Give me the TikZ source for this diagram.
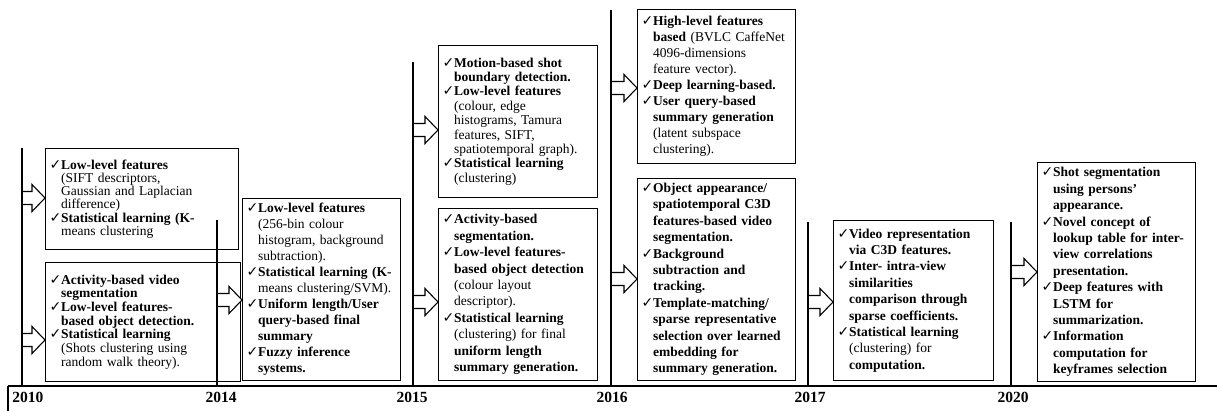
\documentclass[tikz,border=0pt]{standalone}
\usepackage{fontspec}
\setmainfont{Liberation Serif}
\newfontfamily\symfont{DejaVu Sans}
\usetikzlibrary{calc}
\newcommand\ck{\makebox[11.5pt][l]{\symfont\mdseries\fontsize{14}{14}\selectfont ✓}}
\newcommand\ind{\hspace*{11.5pt}}
\newcommand\nohyph{\hyphenpenalty 10000\relax\exhyphenpenalty 10000\relax}
\tikzset{
  stage/.style={draw, line width=1.1pt, anchor=north west, align=left, inner xsep=4pt, inner ysep=2pt,
    font=\fontsize{13.5}{#1}\selectfont\bfseries\nohyph},
  yearline/.style={line width=1.8pt},
  yearlabel/.style={font=\fontsize{15.5}{15.5}\selectfont\bfseries, inner sep=0pt, anchor=north},
  blockarr/.style={draw, fill=white, line width=1.1pt, line join=miter,
    to path={($(\tikztostart)+(0,6.5)$) -- ($(\tikztotarget)+(-13,6.5)$) -- ($(\tikztotarget)+(-13,13.5)$)
      -- (\tikztotarget) -- ($(\tikztotarget)+(-13,-13.5)$) -- ($(\tikztotarget)+(-13,-6.5)$)
      -- ($(\tikztostart)+(0,-6.5)$) -- cycle}}
}
\begin{document}
\begin{tikzpicture}[x=1pt, y=-1pt]
\useasboundingbox (0,0) rectangle (1217,411);
% 2010
\node[stage=13.3, text width=185pt, minimum height=101pt] (n2010a) at (45,148) {%
\ck Low-level features\\
\ind\textmd{(SIFT descriptors,}\\
\ind\textmd{Gaussian and Laplacian}\\
\ind\textmd{difference)}\\
\ck Statistical learning (K-\\
\ind\textmd{means clustering}};
\node[stage=13.7, text width=187pt, minimum height=119pt] (n2010b) at (45,262) {%
\ck Activity-based video\\
\ind segmentation\\
\ck Low-level features-\\
\ind based object detection.\\
\ck Statistical learning\\
\ind\textmd{(Shots clustering using}\\
\ind\textmd{random walk theory).}};
% 2014
\node[stage=16, text width=150pt, minimum height=182pt] (n2014) at (242,198) {%
\ck Low-level features\\
\ind\textmd{(256-bin colour}\\
\ind\textmd{histogram, background}\\
\ind\textmd{subtraction).}\\
\ck Statistical learning (K-\\
\ind\textmd{means clustering/SVM).}\\
\ck Uniform length/User\\
\ind query-based final\\
\ind summary\\
\ck Fuzzy inference\\
\ind systems.};
% 2015
\node[stage=14.4, text width=151pt, minimum height=152pt] (n2015a) at (438,45) {%
\ck Motion-based shot\\
\ind boundary detection.\\
\ck Low-level features\\
\ind\textmd{(colour, edge}\\
\ind\textmd{histograms, Tamura}\\
\ind\textmd{features, SIFT,}\\
\ind\textmd{spatiotemporal graph).}\\
\ck Statistical learning\\
\ind\textmd{(clustering)}};
\node[stage=16.4, text width=151pt, minimum height=172pt] (n2015b) at (438,208) {%
\ck Activity-based\\
\ind segmentation.\\
\ck Low-level features-\\
\ind based object detection\\
\ind\textmd{(colour layout}\\
\ind\textmd{descriptor).}\\
\ck Statistical learning\\
\ind\textmd{(clustering) for final}\\
\ind uniform length\\
\ind summary generation.};
% 2016
\node[stage=16, text width=150pt, minimum height=154pt] (n2016a) at (637,9) {%
\ck High-level features\\
\ind based \textmd{(BVLC CaffeNet}\\
\ind\textmd{4096-dimensions}\\
\ind\textmd{feature vector).}\\
\ck Deep learning-based.\\
\ck User query-based\\
\ind summary generation\\
\ind\textmd{(latent subspace}\\
\ind\textmd{clustering).}};
\node[stage=16.4, text width=150pt, minimum height=202pt] (n2016b) at (637,178) {%
\ck Object appearance/\\
\ind spatiotemporal C3D\\
\ind features-based video\\
\ind segmentation.\\
\ck Background\\
\ind subtraction and\\
\ind tracking.\\
\ck Template-matching/\\
\ind sparse representative\\
\ind selection over learned\\
\ind embedding for\\
\ind summary generation.};
% 2017
\node[stage=16.4, text width=152pt, minimum height=160pt] (n2017) at (833,220) {%
\ck Video representation\\
\ind via C3D features.\\
\ck Inter- intra-view\\
\ind similarities\\
\ind comparison through\\
\ind sparse coefficients.\\
\ck Statistical learning\\
\ind\textmd{(clustering) for}\\
\ind computation.};
% 2020
\node[stage=16.4, text width=150pt, minimum height=219pt] (n2020) at (1037,162) {%
\ck Shot segmentation\\
\ind using persons’\\
\ind appearance.\\
\ck Novel concept of\\
\ind lookup table for inter-\\
\ind view correlations\\
\ind presentation.\\
\ck Deep features with\\
\ind LSTM for\\
\ind summarization.\\
\ck Information\\
\ind computation for\\
\ind keyframes selection};
% Block arrows from the year lines
\foreach \n/\x/\y in {n2010a/22/198, n2010b/22/340, n2014/217/300, n2015a/413/130, n2015b/413/302,
    n2016a/611/88, n2016b/611/279, n2017/808/302, n2020/1011/272} {
  \coordinate (t-\n) at (\x,\y);
  \coordinate (h-\n) at (\n.west |- t-\n);
  \draw[blockarr] (t-\n) to (h-\n);
}
% Year lines and labels
\foreach \yr/\x/\ty/\lx in {2010/22/148/28, 2014/217/220/221, 2015/413/62/412, 2016/611/10/612,
    2017/808/222/810, 2020/1011/222/1013} {
  \coordinate (top\yr) at (\x,\ty);
  \coordinate (base\yr) at (\x,386);
  \draw[yearline] (top\yr) -- (base\yr);
  \node[yearlabel] (lab\yr) at (\lx,392) {\yr};
}
% Time axis
\coordinate (axL) at (8,386);
\coordinate (axR) at (1217,386);
\coordinate (tick) at (8,411);
\draw[line width=2.2pt] (axL) -- (axR);
\draw[line width=1.8pt] (axL) -- (tick);
\end{tikzpicture}
\end{document}
